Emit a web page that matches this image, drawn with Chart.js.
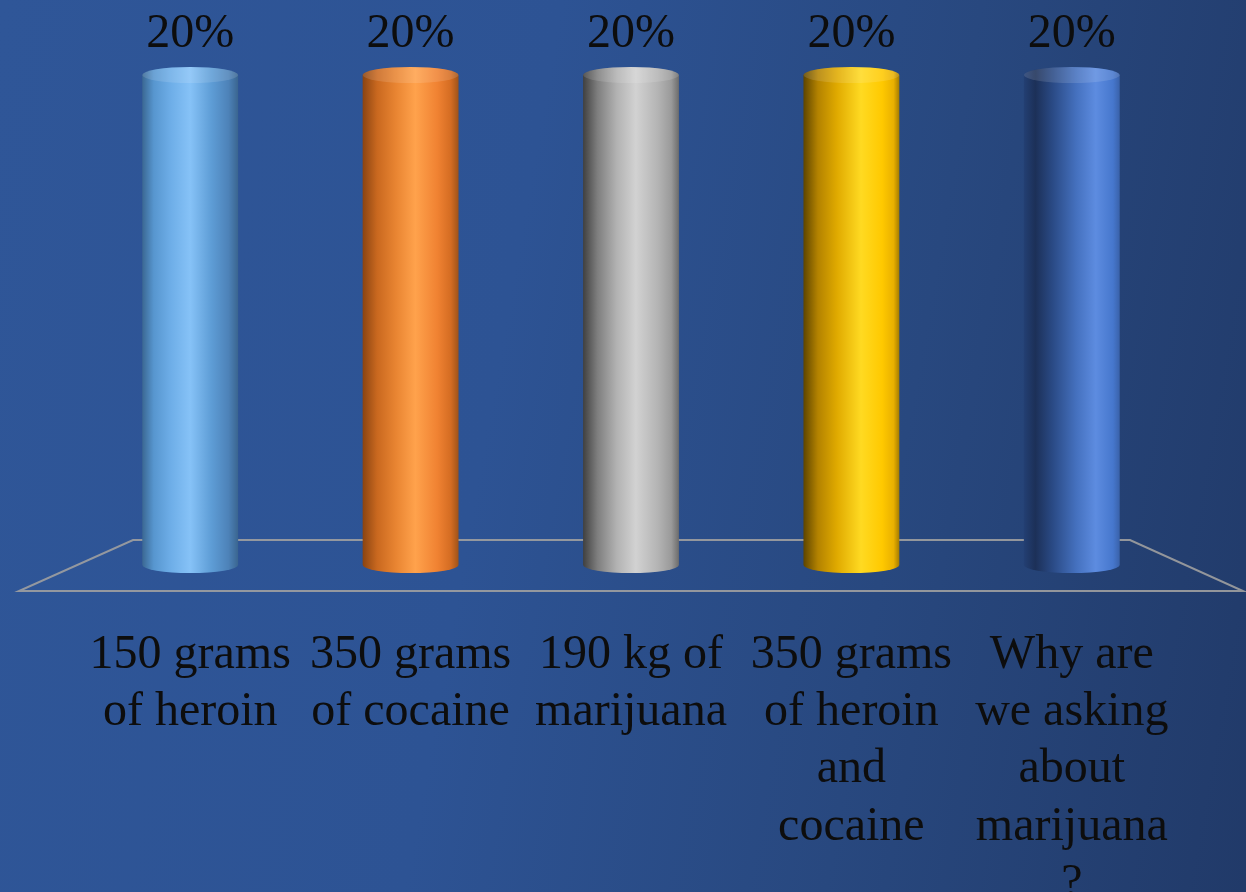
<!DOCTYPE html>
<html>
<head>
<meta charset="utf-8">
<script src="https://cdn.jsdelivr.net/npm/chart.js@4.4.1/dist/chart.umd.min.js"></script>
<style>
  html, body { margin: 0; padding: 0; overflow: hidden; }
  body {
    width: 1246px; height: 892px;
    background: linear-gradient(100deg, #2f5698 0%, #2d5394 40%, #28487f 70%, #213a69 100%);
  }
  #wrap { position: relative; width: 1246px; height: 892px; }
</style>
</head>
<body>
<div id="wrap"><canvas id="c"></canvas></div>
<script>
const categories = [
  ["150 grams", "of heroin"],
  ["350 grams", "of cocaine"],
  ["190 kg of", "marijuana"],
  ["350 grams", "of heroin", "and", "cocaine"],
  ["Why are", "we asking", "about", "marijuana", "?"]
];
const values = [20, 20, 20, 20, 20];
const valueLabels = ["20%", "20%", "20%", "20%", "20%"];

// horizontal shading stops for each cylinder
const shades = [
  [[0, "#3b6893"], [0.12, "#5796cf"], [0.3, "#6eaee8"], [0.5, "#86c2f7"], [0.72, "#5e9dd6"], [0.9, "#4d82b8"], [1, "#3a6590"]],
  [[0, "#8a4412"], [0.15, "#c9681f"], [0.35, "#e98532"], [0.55, "#ffa24c"], [0.78, "#f08232"], [0.92, "#d46c22"], [1, "#9f5319"]],
  [[0, "#404040"], [0.15, "#7e7e7e"], [0.35, "#b2b2b2"], [0.55, "#d2d2d2"], [0.78, "#b4b4b4"], [0.92, "#9a9a9a"], [1, "#6c6c6c"]],
  [[0, "#5e4500"], [0.15, "#b38200"], [0.35, "#e0aa00"], [0.6, "#ffda22"], [0.82, "#ffc900"], [0.94, "#e9b000"], [1, "#a67c00"]],
  [[0, "#233f73"], [0.12, "#1c3058"], [0.3, "#2a4a85"], [0.55, "#4571bf"], [0.75, "#5d8ce0"], [0.93, "#4677cd"], [1, "#3a62aa"]]
];

const BAR_PCT = 0.87, CAT_PCT = 0.5;

function makeGrad(c2d, x0, x1, idx) {
  const g = c2d.createLinearGradient(x0, 0, x1, 0);
  shades[idx].forEach(([o, col]) => g.addColorStop(o, col));
  return g;
}

function barGradient(ctx) {
  const chart = ctx.chart;
  const i = ctx.dataIndex;
  const xs = chart.scales && chart.scales.x;
  if (!chart.chartArea || !xs || i === undefined) return shades[i || 0][3][1];
  const cx = xs.getPixelForValue(i);
  const catW = (chart.chartArea.right - chart.chartArea.left) / categories.length;
  const half = catW * BAR_PCT * CAT_PCT / 2;
  return makeGrad(chart.ctx, cx - half, cx + half, i);
}

const floorPlugin = {
  id: 'floor',
  beforeDatasetsDraw(chart) {
    const a = chart.chartArea, c = chart.ctx;
    const backY = a.bottom - 25, frontY = a.bottom + 26;
    c.save();
    c.strokeStyle = "rgba(160,160,160,0.9)";
    c.lineWidth = 2;
    c.beginPath();
    c.moveTo(a.left + 53, backY);
    c.lineTo(a.right - 52, backY);
    c.lineTo(a.right + 61, frontY);
    c.lineTo(a.left - 61, frontY);
    c.closePath();
    c.stroke();
    c.restore();
  }
};

const cylinderPlugin = {
  id: 'cylinder',
  afterDatasetsDraw(chart) {
    const c = chart.ctx;
    const meta = chart.getDatasetMeta(0);
    meta.data.forEach((bar, i) => {
      const w = bar.width, x0 = bar.x - w / 2, x1 = bar.x + w / 2;
      const ry = 8;
      c.save();
      c.fillStyle = makeGrad(c, x0, x1, i);
      c.beginPath();
      c.ellipse(bar.x, bar.base, w / 2, ry, 0, 0, Math.PI);
      c.closePath();
      c.fill();
      c.beginPath();
      c.ellipse(bar.x, bar.y, w / 2, ry, 0, 0, Math.PI * 2);
      c.fillStyle = makeGrad(c, x0, x1, i);
      c.fill();
      c.fillStyle = "rgba(255,255,255,0.12)";
      c.fill();
      c.restore();
      c.save();
      c.font = "48px 'Liberation Serif', 'Times New Roman', serif";
      c.fillStyle = "#0d0d0d";
      c.textAlign = "center";
      c.textBaseline = "middle";
      c.fillText(valueLabels[i], bar.x, bar.y - 41);
      c.restore();
    });
  }
};

new Chart(document.getElementById('c'), {
  type: 'bar',
  data: {
    labels: categories,
    datasets: [{
      data: values,
      backgroundColor: barGradient,
      borderWidth: 0,
      barPercentage: BAR_PCT,
      categoryPercentage: CAT_PCT
    }]
  },
  options: {
    responsive: true,
    maintainAspectRatio: false,
    animation: false,
    layout: { padding: { top: 75, left: 80, right: 64, bottom: 0 } },
    plugins: { legend: { display: false }, tooltip: { enabled: false } },
    scales: {
      y: { display: false, min: 0, max: 20 },
      x: {
        grid: { display: false, drawTicks: false },
        border: { display: false },
        ticks: {
          color: "#0d0d0d",
          padding: 62,
          maxRotation: 0,
          autoSkip: false,
          font: { family: "'Liberation Serif', 'Times New Roman', serif", size: 48, lineHeight: 1.19 }
        },
        afterFit(scale) { scale.height = 327; }
      }
    }
  },
  plugins: [floorPlugin, cylinderPlugin]
});
</script>
</body>
</html>
